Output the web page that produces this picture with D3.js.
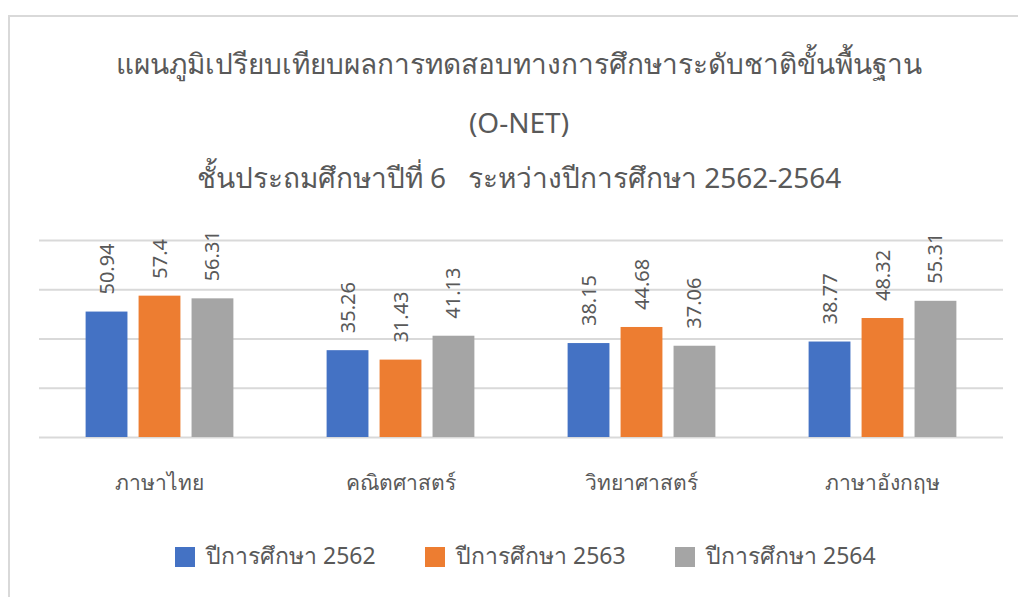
<!DOCTYPE html>
<html>
<meta charset="utf-8">
<style>
body {
  margin: 0;
  background: #fff;
  font-family: "Noto Sans", "Open Sans", sans-serif;
}
svg { display: block; }
.title { fill: #595959; font-size: 28px; font-weight: 400; text-anchor: middle; white-space: pre; }
.catLabel { fill: #595959; font-size: 21px; text-anchor: middle; }
.valLabel { fill: #595959; font-size: 20px; }
.legend text { fill: #595959; font-size: 23px; }
.grid line { stroke: #d9d9d9; stroke-width: 2; }
.grid path { display: none; }
</style>
<body>
<script src="https://cdn.jsdelivr.net/npm/d3@7"></script>
<script>
// chart data
var categories = ["ภาษาไทย", "คณิตศาสตร์", "วิทยาศาสตร์", "ภาษาอังกฤษ"];
var seriesNames = ["ปีการศึกษา 2562", "ปีการศึกษา 2563", "ปีการศึกษา 2564"];
var values2562 = [50.94, 35.26, 38.15, 38.77];
var values2563 = [57.4, 31.43, 44.68, 48.32];
var values2564 = [56.31, 41.13, 37.06, 55.31];
var colors = ["#4472c4", "#ed7d31", "#a5a5a5"];
var titleLines = ["แผนภูมิเปรียบเทียบผลการทดสอบทางการศึกษาระดับชาติขั้นพื้นฐาน", "(O-NET)", "ชั้นประถมศึกษาปีที่ 6   ระหว่างปีการศึกษา 2562-2564"];
var yTicks = [0, 20, 40, 60, 80];

var width = 1018, height = 597;
var plot = {left: 39, right: 1003, top: 240, bottom: 437};

var seriesValues = [values2562, values2563, values2564];
var data = categories.map(function(c, i) {
  return {cat: c, vals: seriesNames.map(function(s, j) { return {name: s, idx: j, value: seriesValues[j][i]}; })};
});

var svg = d3.select("body").append("svg")
  .attr("width", width)
  .attr("height", height);

// outer frame of the chart area
svg.append("rect")
  .attr("x", 9).attr("y", 16)
  .attr("width", 1040).attr("height", 620)
  .attr("fill", "#fff")
  .attr("stroke", "#d9d9d9")
  .attr("stroke-width", 2);

var x0 = d3.scaleBand().domain(categories).range([plot.left, plot.right]);
var x1 = d3.scaleBand().domain(seriesNames).range([0, x0.bandwidth()])
  .paddingInner(0.21).paddingOuter(0.88);
var y = d3.scaleLinear().domain([0, 80]).range([plot.bottom, plot.top]);

// gridlines
svg.append("g")
  .attr("class", "grid")
  .attr("transform", "translate(" + plot.left + ",0)")
  .call(d3.axisRight(y).tickValues(yTicks).tickSize(plot.right - plot.left).tickFormat(""));

// titles
svg.selectAll(".title")
  .data(titleLines)
  .enter().append("text")
  .attr("class", "title")
  .attr("xml:space", "preserve")
  .attr("x", 519)
  .attr("y", function(d, i) { return [74, 133, 188][i]; })
  .text(function(d) { return d; });

var group = svg.selectAll(".grp")
  .data(data)
  .enter().append("g")
  .attr("class", "grp")
  .attr("transform", function(d) { return "translate(" + x0(d.cat) + ",0)"; });

group.selectAll("rect")
  .data(function(d) { return d.vals; })
  .enter().append("rect")
  .attr("x", function(d) { return x1(d.name); })
  .attr("y", function(d) { return y(d.value); })
  .attr("width", x1.bandwidth())
  .attr("height", function(d) { return y(0) - y(d.value); })
  .attr("fill", function(d) { return colors[d.idx]; });

group.selectAll(".valLabel")
  .data(function(d) { return d.vals; })
  .enter().append("text")
  .attr("class", "valLabel")
  .attr("transform", function(d) {
    return "translate(" + (x1(d.name) + x1.bandwidth() / 2) + "," + (y(d.value) - 17) + ") rotate(-90)";
  })
  .attr("dy", "0.35em")
  .text(function(d) { return d.value; });

// category labels
svg.selectAll(".catLabel")
  .data(categories)
  .enter().append("text")
  .attr("class", "catLabel")
  .attr("x", function(d) { return x0(d) + x0.bandwidth() / 2; })
  .attr("y", 490)
  .text(function(d) { return d; });

// legend
var legend = svg.selectAll(".legend")
  .data(seriesNames)
  .enter().append("g")
  .attr("class", "legend")
  .attr("transform", function(d, i) { return "translate(" + (175 + i * 250) + ",547)"; });
legend.append("rect")
  .attr("width", 20).attr("height", 20)
  .attr("fill", function(d, i) { return colors[i]; });
legend.append("text")
  .attr("x", 31).attr("y", 17)
  .text(function(d) { return d; });
</script>
</body>
</html>
